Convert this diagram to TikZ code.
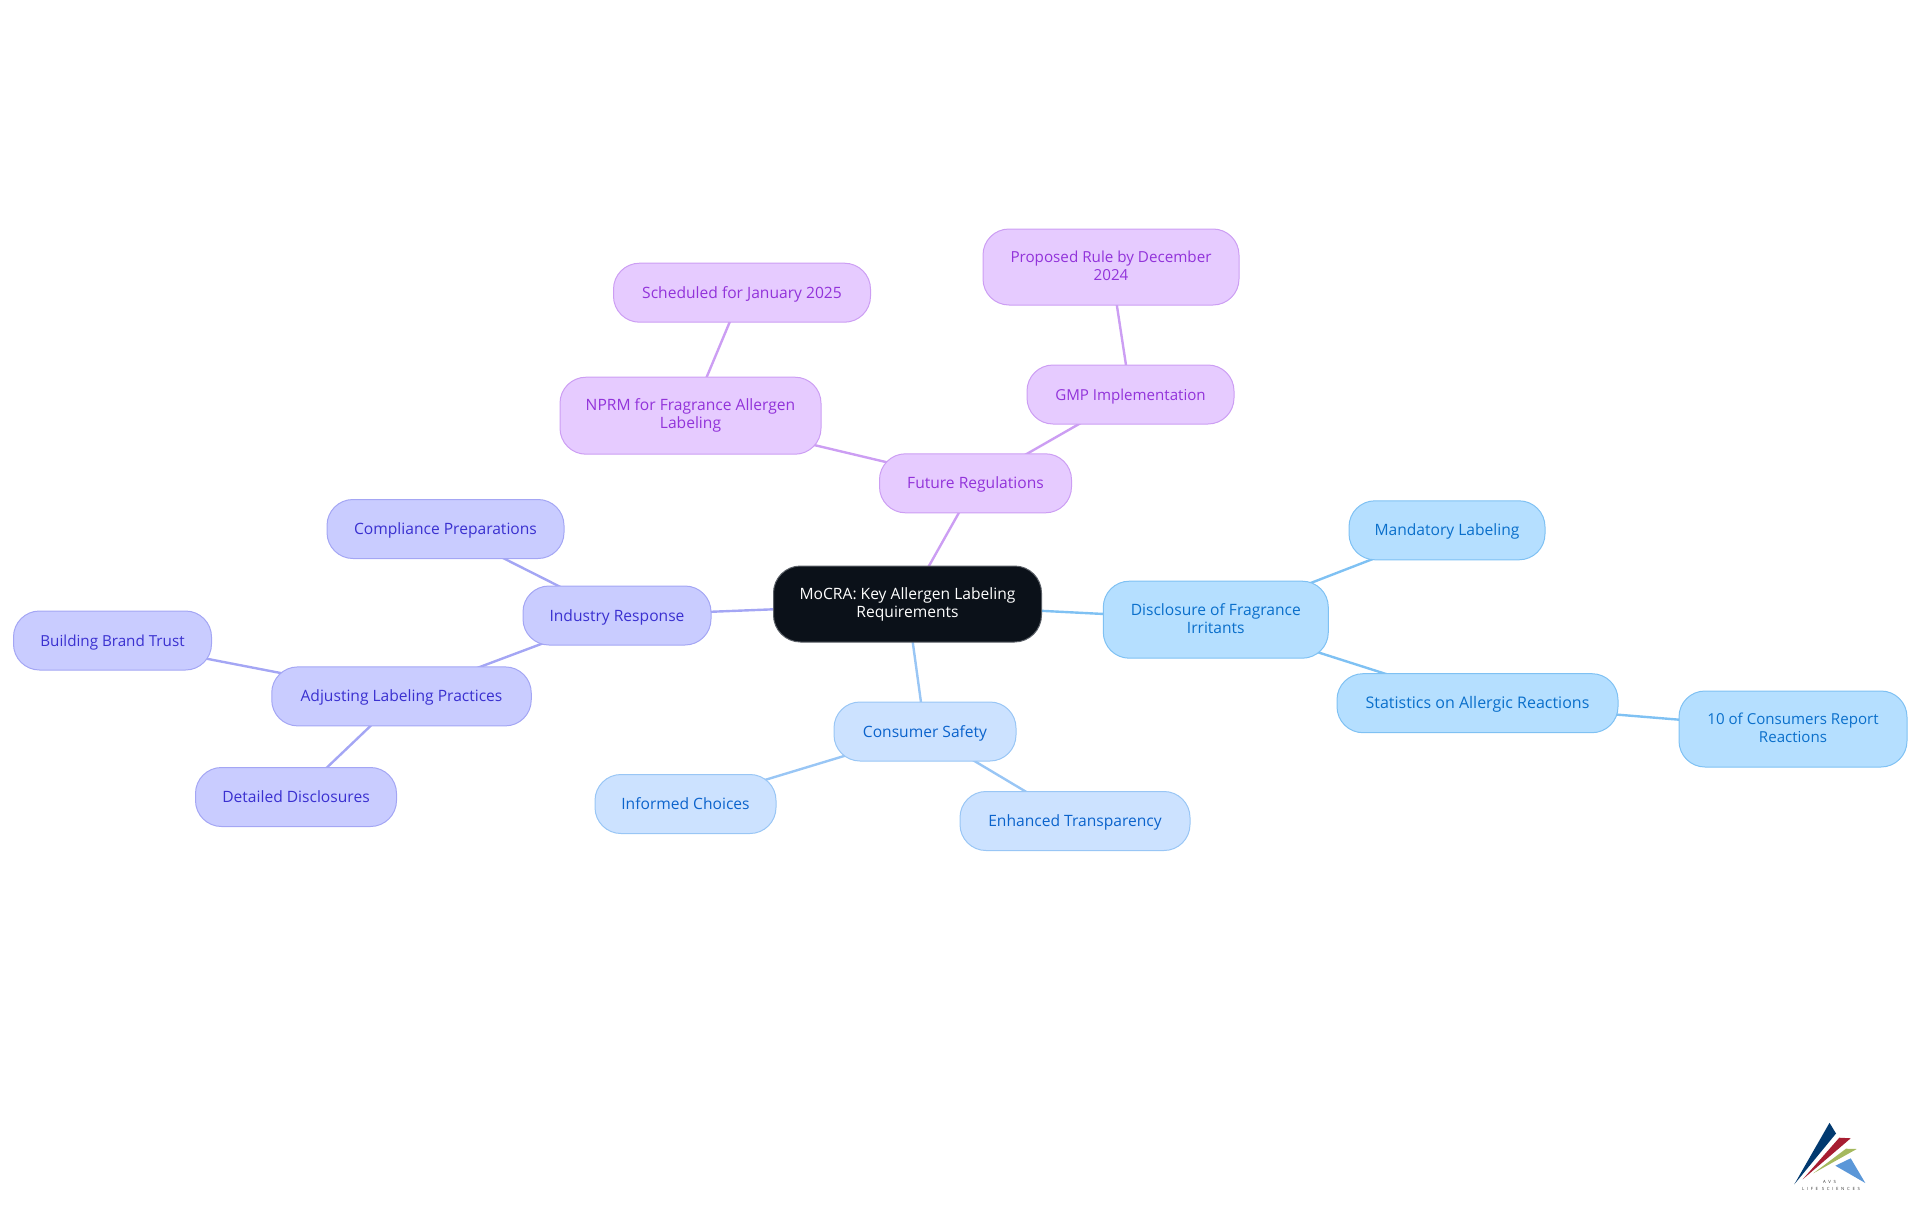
\documentclass[tikz,border=0pt]{standalone}
\usepackage{fontspec}
\setmainfont{Open Sans}
\newfontfamily\logofont[LetterSpace=62]{Open Sans}
\usetikzlibrary{backgrounds}
\definecolor{purF}{HTML}{E6CBFF}\definecolor{purD}{HTML}{CC9EF3}\definecolor{purT}{HTML}{9233DA}
\definecolor{bluF}{HTML}{B5DFFF}\definecolor{bluD}{HTML}{7FC1F3}\definecolor{bluT}{HTML}{0A6FCB}
\definecolor{ltbF}{HTML}{CCE2FF}\definecolor{ltbD}{HTML}{99C6F5}\definecolor{ltbT}{HTML}{0B63CC}
\definecolor{indF}{HTML}{C9CCFF}\definecolor{indD}{HTML}{A4A6F4}\definecolor{indT}{HTML}{3A30D0}
\definecolor{rootF}{HTML}{0B1119}\definecolor{rootD}{HTML}{5A5F66}
\definecolor{logoA}{HTML}{023A70}\definecolor{logoB}{HTML}{A71D31}\definecolor{logoC}{HTML}{A5B95E}\definecolor{logoD}{HTML}{5B97D8}
\newcommand{\lowd}{\rule[-2.6pt]{0pt}{2.6pt}}
\newcommand{\fsz}[1]{\fontsize{#1}{18}\selectfont}
\tikzset{
 nd/.style={draw,line width=1pt,rounded corners=26pt,align=center,inner sep=0pt,font=\fontsize{15.6}{18}\selectfont},
 rootnode/.style={nd,fill=rootF,draw=rootD,text=white,rounded corners=27pt},
 pur/.style={nd,fill=purF,draw=purD,text=purT},
 blu/.style={nd,fill=bluF,draw=bluD,text=bluT},
 ltb/.style={nd,fill=ltbF,draw=ltbD,text=ltbT},
 ind/.style={nd,fill=indF,draw=indD,text=indT},
 one/.style={text height=13.4pt,text depth=2.4pt},
 lnk/.style={line width=2.4pt},
 size/.style n args={2}{minimum width=#1 pt,minimum height=#2 pt},
}
\begin{document}
\begin{tikzpicture}[x=1pt,y=-1pt]
\useasboundingbox (0,0) rectangle (1920,1215);
\node[rootnode,size={268}{76}] (root) at (907.5,604) {MoCRA: Key Allergen Labeling\\Requirements};
\node[pur,one,size={192}{59}] (fr) at (975.5,483.3) {Future Regulations};
\node[pur,size={261}{77}] (nprm) at (690.5,415.7) {NPRM for Fragrance Allergen\\Labeling};
\node[pur,one,size={257}{59}] (sch) at (742,292.7) {Scheduled for January 2025};
\node[pur,one,size={207}{59}] (gmp) at (1130.5,394.5) {\fsz{15.1}GMP Implementation};
\node[pur,size={256}{76}] (prop) at (1111,267) {\fsz{15.2}Proposed Rule by December\\\fsz{15.2}2024\lowd};
\node[blu,size={225}{77}] (dis) at (1215.8,619.7) {Disclosure of Fragrance\\Irritants\lowd};
\node[blu,one,size={196}{59}] (man) at (1447,530.3) {Mandatory Labeling};
\node[blu,one,size={281}{59}] (sta) at (1477.5,703.2) {\fsz{16}Statistics on Allergic Reactions};
\node[blu,size={228}{76}] (ten) at (1793,729) {\fsz{15.1}10 of Consumers Report\\\fsz{15.1}Reactions\lowd};
\node[ltb,one,size={182}{59}] (cs) at (925,731.5) {Consumer Safety};
\node[ltb,one,size={181}{59}] (inf) at (685.5,804) {Informed Choices};
\node[ltb,one,size={230}{59}] (enh) at (1075,821) {Enhanced Transparency};
\node[ind,one,size={188}{59}] (ir) at (617,615.5) {Industry Response};
\node[ind,one,size={237}{59}] (cp) at (445.5,529) {Compliance Preparations};
\node[ind,one,size={259.5}{59}] (alp) at (401.5,696.4) {Adjusting Labeling Practices};
\node[ind,one,size={198}{59}] (bbt) at (112.5,640.5) {\fsz{15.2}Building Brand Trust};
\node[ind,one,size={201}{59}] (dd) at (296,797) {Detailed Disclosures};
\begin{scope}[on background layer={lnk}]
\draw[purD] (root.center) -- (fr.center);
\draw[purD] (fr.center) -- (nprm.center);
\draw[purD] (nprm.center) -- (sch.center);
\draw[purD] (fr.center) -- (gmp.center);
\draw[purD] (gmp.center) -- (prop.center);
\draw[bluD] (root.center) -- (dis.center);
\draw[bluD] (dis.center) -- (man.center);
\draw[bluD] (dis.center) -- (sta.center);
\draw[bluD] (sta.center) -- (ten.center);
\draw[ltbD] (root.center) -- (cs.center);
\draw[ltbD] (cs.center) -- (inf.center);
\draw[ltbD] (cs.center) -- (enh.center);
\draw[indD] (root.center) -- (ir.center);
\draw[indD] (ir.center) -- (cp.center);
\draw[indD] (ir.center) -- (alp.center);
\draw[indD] (alp.center) -- (bbt.center);
\draw[indD] (alp.center) -- (dd.center);
\end{scope}
% logo
\fill[logoA] (1794.3,1184.3) -- (1829.5,1122.8) -- (1836,1133.5) -- cycle;
\fill[logoB] (1802.7,1179.3) -- (1839.3,1137.7) -- (1850.7,1138.3) -- cycle;
\fill[logoC] (1813.3,1173.3) -- (1846,1148.7) -- (1856.7,1149) -- cycle;
\fill[logoD] (1835.3,1165.7) -- (1850.7,1158.3) -- (1865.3,1183) -- cycle;
\node[inner sep=0pt,text=black!80] (avs) at (1829.5,1182.3) {\logofont\fontsize{4.3}{5}\selectfont AVS};
\node[inner sep=0pt,text=black!80] (lsc) at (1831,1189) {\logofont\fontsize{4.3}{5}\selectfont LIFE SCIENCES};
\end{tikzpicture}
\end{document}
